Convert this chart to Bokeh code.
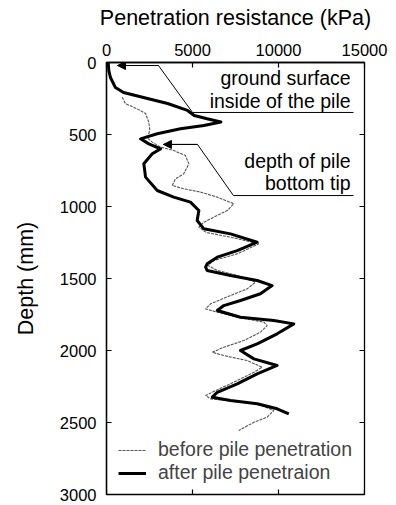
import math
from bokeh.plotting import figure
from bokeh.models import (Range1d, FixedTicker, Legend, LegendItem,
                          Arrow, NormalHead, ColumnDataSource)
from bokeh.embed import file_html
from bokeh.resources import INLINE
from bokeh.core.properties import value

FONT = "Liberation Sans"

# ---- data ----
x_ticks = [0, 5000, 10000, 15000]
y_ticks = [0, 500, 1000, 1500, 2000, 2500, 3000]

depth_after = [0, 56, 104, 174, 208, 243, 285, 333, 368, 391, 413, 437, 460, 495, 530,
               565, 600, 634, 703, 796, 889, 935, 970, 1028, 1097, 1155, 1190, 1248,
               1306, 1352, 1398, 1421, 1444, 1479, 1514, 1549, 1606, 1653, 1688, 1722,
               1769, 1792, 1815, 1884, 1954, 2000, 2058, 2104, 2162, 2232, 2290, 2324,
               2347, 2370, 2405, 2440]
res_after = [100, 135, 230, 520, 990, 2150, 3550, 4710, 5100, 5850, 6650, 5660, 4300,
             2950, 1980, 2460, 3140, 2660, 2170, 2270, 2950, 3910, 4880, 5370, 5270,
             5660, 7210, 8760, 7600, 6440, 5850, 5760, 5850, 7210, 8760, 9630, 8950,
             7790, 6820, 6440, 7790, 9730, 10890, 9920, 8760, 7790, 8570, 9920, 8760,
             7600, 6440, 6150, 7210, 8760, 9920, 10600]

depth_before = [241, 285, 322, 354, 415, 472, 523, 553, 588, 611, 646, 703, 773, 808,
                854, 877, 900, 935, 981, 1028, 1074, 1109, 1144, 1180, 1213, 1259, 1329,
                1375, 1410, 1444, 1479, 1525, 1572, 1618, 1676, 1711, 1734, 1769, 1803,
                1827, 1873, 1931, 1977, 2012, 2035, 2070, 2116, 2151, 2220, 2278, 2313,
                2336, 2370, 2417, 2463, 2498, 2556]
res_before = [910, 1100, 1780, 2270, 2460, 2520, 2370, 2660, 3140, 3910, 4590, 4790,
              4490, 4010, 3820, 4490, 5470, 6440, 7400, 7020, 6240, 5660, 5370, 5800,
              7210, 8860, 7600, 6240, 5900, 6440, 7600, 8660, 8180, 7210, 6050, 5760,
              6440, 7600, 9150, 9340, 8950, 7980, 6820, 6150, 6820, 8180, 9050, 8570,
              7400, 6340, 5760, 6050, 8760, 9730, 9340, 8570, 7690]

ann_text = ["ground surface", "inside of the pile", "depth of pile", "bottom tip"]
ann_x = [14190, 14190, 14190, 14190]
ann_y = [111, 264, 681, 840]

leader1_x = [640, 3020, 5000, 14360]
leader1_y = [21, 21, 347, 347]
leader2_x = [3310, 5290, 7380, 14360]
leader2_y = [569, 569, 924, 924]

# ---- figure ----
p = figure(width=388, height=504,
           min_border_left=106, min_border_right=24, min_border_top=62, min_border_bottom=10,
           x_range=Range1d(0, 15000), y_range=Range1d(3000, 0),
           x_axis_location="above", output_backend="svg", toolbar_location=None)
p.background_fill_color = "white"
p.border_fill_color = "white"
p.outline_line_color = "black"
p.outline_line_width = 1.3
p.xgrid.visible = False
p.ygrid.visible = False

xa = p.xaxis[0]
xa.ticker = FixedTicker(ticks=x_ticks)
xa.axis_label = "Penetration resistance (kPa)"
ya = p.yaxis[0]
ya.ticker = FixedTicker(ticks=y_ticks)
ya.axis_label = "Depth (mm)"

for ax in (xa, ya):
    ax.axis_label_text_font = FONT
    ax.axis_label_text_font_size = "21.5px"
    ax.axis_label_text_font_style = "normal"
    ax.axis_label_text_color = "black"
    ax.major_label_text_font = FONT
    ax.major_label_text_font_size = "16.5px"
    ax.major_label_text_color = "black"
    ax.major_tick_in = 5
    ax.major_tick_out = 0
    ax.minor_tick_in = 0
    ax.minor_tick_out = 0
    ax.axis_line_color = "black"
    ax.axis_line_width = 1.3
    ax.major_tick_line_color = "black"
    ax.major_tick_line_width = 1.2

xa.major_label_standoff = 7
xa.axis_label_standoff = 11
ya.major_label_standoff = 10
ya.axis_label_standoff = 19

# mirrored inward ticks on the right and bottom edges (clipped half-dashes)
p.scatter([x_ticks[-1]] * len(y_ticks), y_ticks, marker="dash", size=10,
          line_color="black", line_width=1.2)
p.scatter(x_ticks, [y_ticks[-1]] * len(x_ticks), marker="dash", size=10,
          angle=math.pi / 2, line_color="black", line_width=1.2)

# ---- curves ----
r_before = p.line(res_before, depth_before, line_color="#555555", line_width=1.1,
                  line_dash="3 1")
r_after = p.line(res_after, depth_after, line_color="black", line_width=3,
                 line_join="round")

# ---- annotations ----
src = ColumnDataSource(dict(x=ann_x, y=ann_y, t=ann_text))
p.text(x="x", y="y", text="t", source=src, text_font=value(FONT),
       text_font_size="19.5px", text_align="right", text_baseline="middle",
       text_color="black")

p.line(leader1_x, leader1_y, line_color="black", line_width=1)
p.line(leader2_x, leader2_y, line_color="black", line_width=1)
p.add_layout(Arrow(end=NormalHead(size=8, fill_color="black", line_color="black"),
                   x_start=leader1_x[1], y_start=leader1_y[1],
                   x_end=leader1_x[0], y_end=leader1_y[0], line_width=1))
p.add_layout(Arrow(end=NormalHead(size=8, fill_color="black", line_color="black"),
                   x_start=leader2_x[1], y_start=leader2_y[1],
                   x_end=leader2_x[0], y_end=leader2_y[0], line_width=1))

# ---- legend ----
legend = Legend(items=[LegendItem(label="before pile penetration", renderers=[r_before]),
                       LegendItem(label="after pile penetraion", renderers=[r_after])],
                location=(12, 10), spacing=-4, padding=0, margin=0,
                glyph_width=28, glyph_height=20, label_height=20, label_standoff=12,
                label_text_font=FONT, label_text_font_size="19.5px",
                background_fill_alpha=0, border_line_color=None)
p.add_layout(legend, "center")

open("out.html", "w").write(file_html(p, INLINE))
